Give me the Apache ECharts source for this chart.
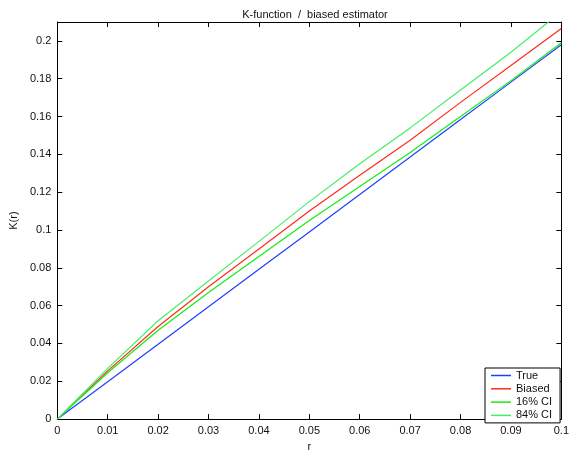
<!DOCTYPE html>
<html>
<head>
<meta charset="utf-8">
<script src="https://cdn.jsdelivr.net/npm/echarts@6/dist/echarts.min.js"></script>
<style>html,body{margin:0;padding:0;background:#fff}#c{width:572px;height:457px}</style>
</head>
<body>
<div id="c"></div>
<script>
var rValues = [0, 0.01, 0.02, 0.03, 0.04, 0.05, 0.06, 0.07, 0.08, 0.09, 0.1];
var trueK   = [0, 0.0198, 0.0396, 0.0594, 0.0792, 0.099, 0.1188, 0.1386, 0.1584, 0.1782, 0.198];
var biasedK = [0, 0.0255, 0.049, 0.070, 0.090, 0.110, 0.129, 0.1475, 0.1675, 0.187, 0.2066];
var ci16K   = [0, 0.0245, 0.047, 0.067, 0.086, 0.105, 0.123, 0.141, 0.160, 0.179, 0.199];
var ci84K   = [0, 0.0268, 0.052, 0.073, 0.094, 0.115, 0.135, 0.154, 0.174, 0.194, 0.2155];
var seriesNames = ['True', 'Biased', '16% CI', '84% CI'];
var xTicks = [0, 0.01, 0.02, 0.03, 0.04, 0.05, 0.06, 0.07, 0.08, 0.09, 0.1];
var yTicks = [0, 0.02, 0.04, 0.06, 0.08, 0.1, 0.12, 0.14, 0.16, 0.18, 0.2];

function pairs(ys){ return rValues.map(function(r,i){ return [r, ys[i]]; }); }
var FONT = 'Liberation Sans, Arial, Helvetica, sans-serif';
var colors = ['#1f3fff', '#ff2a1a', '#11ee11', '#44ee66'];

function fmt(v){ return String(+v.toFixed(4)); }

var axisBase = {
  axisLine: {show: true, onZero: false, lineStyle: {color: '#000', width: 1}},
  axisTick: {show: true, inside: true, length: 5, lineStyle: {color: '#000', width: 1}},
  splitLine: {show: false}
};
function mkX(pos, showLabel){
  return Object.assign({}, axisBase, {
    type: 'value', position: pos, min: 0, max: 0.1, interval: 0.01,
    name: showLabel ? 'r' : '', nameLocation: 'middle', nameGap: 19,
    nameTextStyle: {fontFamily: FONT, fontSize: 11, color: '#111'},
    axisLabel: {show: showLabel, fontFamily: FONT, fontSize: 11, color: '#111', margin: 6,
      formatter: function(v){ return xTicks.indexOf(+v.toFixed(4)) >= 0 ? fmt(v) : ''; }}
  });
}
function mkY(pos, showLabel){
  return Object.assign({}, axisBase, {
    type: 'value', position: pos, min: 0, max: 0.21, interval: 0.02,
    name: showLabel ? 'K(r)' : '', nameLocation: 'middle', nameGap: 34,
    nameTextStyle: {fontFamily: FONT, fontSize: 11, color: '#111'},
    axisLabel: {show: showLabel, fontFamily: FONT, fontSize: 11, color: '#111', margin: 6,
      showMaxLabel: false,
      formatter: function(v){ return yTicks.indexOf(+v.toFixed(4)) >= 0 ? fmt(v) : ''; }}
  });
}
var allData = [trueK, biasedK, ci16K, ci84K];
var series = allData.map(function(d, i){
  return {
    name: seriesNames[i], type: 'line', data: pairs(d), showSymbol: false,
    lineStyle: {color: colors[i], width: 1.2}, itemStyle: {color: colors[i]},
    clip: true, animation: false, z: 2 + i
  };
});

var chart = echarts.init(document.getElementById('c'));
chart.setOption({
  backgroundColor: '#fff',
  animation: false,
  title: {text: 'K-function  /  biased estimator', left: 310, top: 4, textAlign: 'center',
    textStyle: {fontFamily: FONT, fontSize: 11, fontWeight: 'normal', color: '#111'}},
  grid: {left: 53, right: 6, top: 22, bottom: 28, containLabel: false},
  xAxis: [mkX('bottom', true), mkX('top', false)],
  yAxis: [mkY('left', true), mkY('right', false)],
  legend: {
    data: seriesNames, orient: 'vertical', left: 485, top: 368,
    backgroundColor: '#fff', borderColor: '#000', borderWidth: 1,
    padding: [1, 8, 1, 6], itemWidth: 20, itemHeight: 1.5, itemGap: 0.3, itemTextGap: 6,
    icon: 'rect', selectedMode: false,
    textStyle: {fontFamily: FONT, fontSize: 11, color: '#111', lineHeight: 13}
  },
  series: series
});
</script>
</body>
</html>
